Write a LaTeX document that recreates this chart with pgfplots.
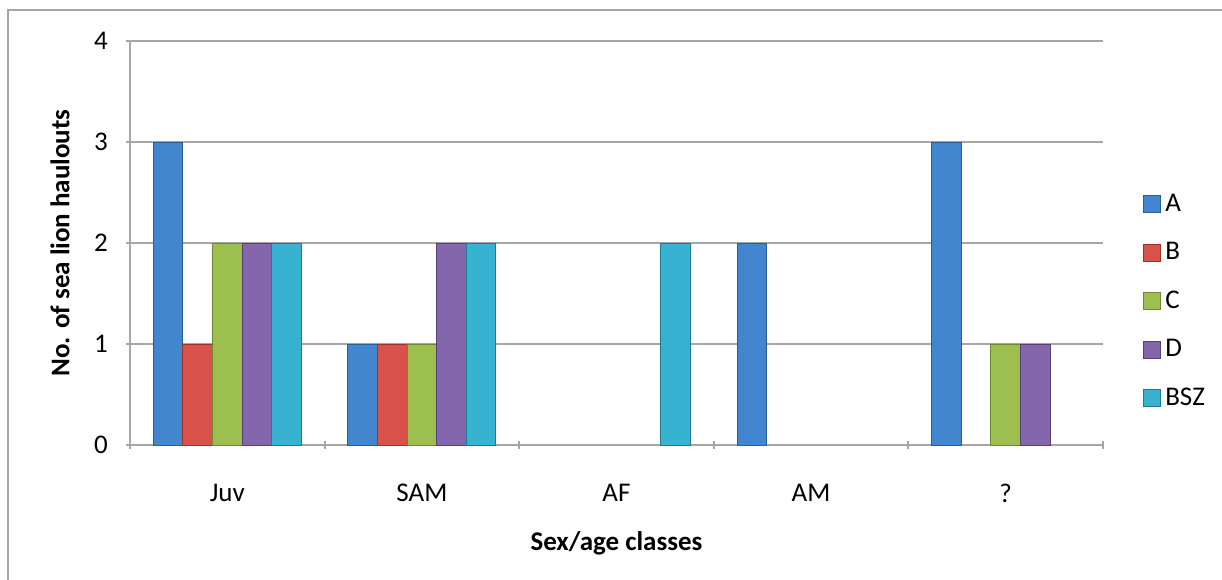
\documentclass[border=0pt]{standalone}
\usepackage{fontspec}
\setmainfont{Carlito}
\usepackage{pgfplots}
\pgfplotsset{compat=1.18}

\definecolor{gridgray}{HTML}{A6A6A6}
\definecolor{Amid}{HTML}{4186CE}\definecolor{Aline}{HTML}{2A5D96}
\definecolor{Bmid}{HTML}{D9524A}\definecolor{Bline}{HTML}{9E3129}
\definecolor{Cmid}{HTML}{9DBF50}\definecolor{Cline}{HTML}{6E8733}
\definecolor{Dmid}{HTML}{8466AC}\definecolor{Dline}{HTML}{574077}
\definecolor{Emid}{HTML}{38B2D1}\definecolor{Eline}{HTML}{1F7A93}

\pgfplotsset{
  barstyle/.style={draw=#1line, line width=0.5pt, fill=#1mid,
    legend image code/.code={\draw[##1] (0pt,-4.25pt) rectangle (8.5pt,4.25pt);}},
}

\begin{document}
\begin{tikzpicture}
\useasboundingbox (0pt,0pt) rectangle (611pt,289.5pt);
\draw[gridgray, line width=1pt] (4pt,-10pt) rectangle (620pt,284.5pt);
\begin{axis}[
  at={(65pt,67pt)}, anchor=south west,
  scale only axis, width=486.5pt, height=202pt,
  font=\fontsize{13.5}{16}\selectfont,
  /pgf/number format/assume math mode=true,
  ybar=0pt, bar width=0.152,
  xmin=-0.5, xmax=4.5, ymin=0, ymax=4,
  xtick={0,1,2,3,4}, xticklabels={Juv,SAM,AF,AM,?},
  major x tick style={draw=none},
  minor xtick={-0.5,0.5,1.5,2.5,3.5,4.5},
  ytick={0,1,2,3,4},
  tick align=outside,
  major tick length=4pt, minor tick length=4pt,
  axis x line=bottom, axis y line=left,
  axis line style={draw=gridgray, line width=1pt, -},
  tick style={gridgray, line width=1pt},
  ymajorgrids, grid style={gridgray, line width=1pt},
  xticklabel style={yshift=-14pt},
  yticklabel style={xshift=-5.5pt},
  xlabel={\textbf{Sex/age classes}},
  ylabel={\textbf{No. of sea lion haulouts}},
  xlabel style={at={(axis description cs:0.5,-0.2426)}, anchor=center},
  ylabel style={at={(axis description cs:-0.072,0.5)}, anchor=center},
  legend style={at={(1.041,0.356)}, anchor=west, draw=none, fill=none,
    inner sep=0pt, row sep=10pt,
    /tikz/every even column/.append style={column sep=4pt}},
  legend cell align=left,
]
\addplot[barstyle=A] coordinates {(0,3) (1,1) (3,2) (4,3)};
\addplot[barstyle=B] coordinates {(0,1) (1,1)};
\addplot[barstyle=C] coordinates {(0,2) (1,1) (4,1)};
\addplot[barstyle=D] coordinates {(0,2) (1,2) (4,1)};
\addplot[barstyle=E] coordinates {(0,2) (1,2) (2,2)};
\legend{A,B,C,D,BSZ}
\end{axis}
\end{tikzpicture}
\end{document}
